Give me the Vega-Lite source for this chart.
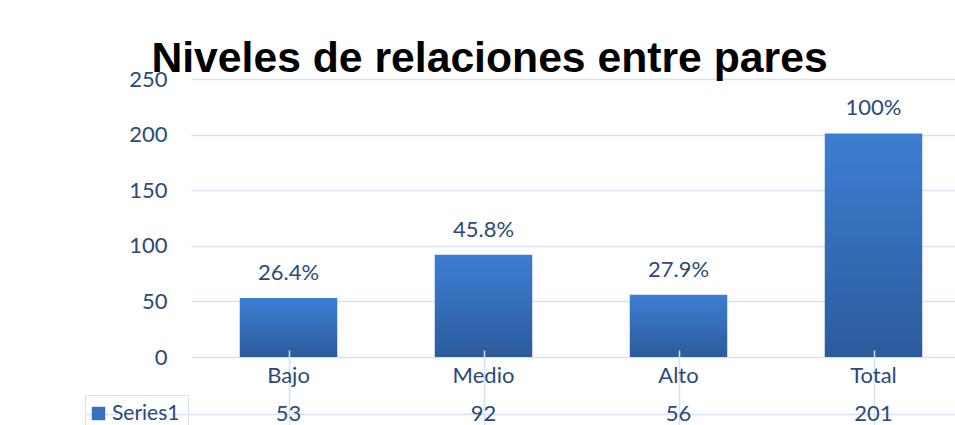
{
  "$schema": "https://vega.github.io/schema/vega-lite/v6.json",
  "padding": {"left": 84, "top": 38, "right": 0, "bottom": 0},
  "background": "white",
  "bounds": "flush",
  "spacing": 0,
  "title": {
    "text": "Niveles de relaciones entre pares",
    "font": "Liberation Sans",
    "fontSize": 42.7,
    "fontWeight": "bold",
    "color": "#000000",
    "anchor": "middle",
    "frame": "group",
    "baseline": "alphabetic",
    "offset": -47,
    "dx": -84
  },
  "data": {
    "values": [
      {"cat": "Bajo", "value": 53, "pct": "26.4%", "series": "Series1"},
      {"cat": "Medio", "value": 92, "pct": "45.8%", "series": "Series1"},
      {"cat": "Alto", "value": 56, "pct": "27.9%", "series": "Series1"},
      {"cat": "Total", "value": 201, "pct": "100%", "series": "Series1"}
    ]
  },
  "vconcat": [
    {
      "width": 765,
      "height": 278,
      "encoding": {
        "x": {
          "field": "cat",
          "type": "nominal",
          "sort": null,
          "scale": {"domain": ["Bajo", "Medio", "Alto", "Total"], "range": [0, 780], "paddingInner": 0, "paddingOuter": 0},
          "axis": null
        },
        "y": {
          "field": "value",
          "type": "quantitative",
          "scale": {"domain": [0, 250], "nice": false},
          "axis": {
            "values": [0, 50, 100, 150, 200, 250],
            "title": null,
            "domain": false,
            "ticks": false,
            "labelPadding": 24,
            "labelFont": "Lato",
            "labelFontSize": 22,
            "labelColor": "#2B4A7A",
            "gridColor": "#D6E2F3",
            "gridWidth": 1.5
          }
        }
      },
      "layer": [
        {
          "mark": {
            "type": "bar",
            "width": {"band": 0.5},
            "color": {"gradient": "linear", "x1": 0, "y1": 0, "x2": 0, "y2": 1,
              "stops": [{"offset": 0, "color": "#3D7ED3"}, {"offset": 1, "color": "#2C5B9C"}]}
          }
        },
        {
          "mark": {"type": "square", "opacity": 0, "size": 10},
          "encoding": {
            "fill": {
              "field": "series",
              "type": "nominal",
              "scale": {"range": ["#3671BD"]},
              "legend": {
                "orient": "none",
                "legendX": -106,
                "legendY": 316,
                "title": null,
                "symbolType": "square",
                "symbolSize": 180,
                "symbolStrokeWidth": 0,
                "symbolOpacity": 1,
                "symbolOffset": -5,
                "labelFont": "Lato",
                "labelFontSize": 21,
                "labelColor": "#2B4A7A",
                "labelOffset": 3,
                "padding": 8,
                "strokeColor": "#D6E2F3"
              }
            }
          }
        },
        {
          "mark": {"type": "text", "baseline": "alphabetic", "dy": -18, "font": "Lato", "fontSize": 22, "color": "#2B4A7A"},
          "encoding": {"text": {"field": "pct"}}
        }
      ]
    },
    {
      "width": 765,
      "height": 69,
      "encoding": {
        "x": {
          "field": "cat",
          "type": "nominal",
          "sort": null,
          "scale": {"domain": ["Bajo", "Medio", "Alto", "Total"], "range": [0, 780], "paddingInner": 0, "paddingOuter": 0},
          "axis": {
            "bandPosition": 0,
            "grid": true,
            "gridColor": "#D6E2F3",
            "gridWidth": 1.5,
            "labels": false,
            "ticks": false,
            "domain": false,
            "title": null
          }
        }
      },
      "layer": [
        {
          "mark": {"type": "text", "baseline": "middle", "font": "Lato", "fontSize": 22, "color": "#2B4A7A"},
          "encoding": {
            "y": {
              "datum": "Categoría",
              "type": "nominal",
              "scale": {"domain": ["Categoría", "Series1"], "range": [0, 76], "paddingInner": 0, "paddingOuter": 0},
              "axis": {
                "values": ["Series1"],
                "bandPosition": 0,
                "grid": true,
                "gridColor": "#D6E2F3",
                "gridWidth": 1.5,
                "labels": false,
                "ticks": true,
                "tickSize": 106,
                "tickColor": "#D6E2F3",
                "tickWidth": 1.5,
                "domain": false,
                "title": null
              }
            },
            "text": {"field": "cat"}
          }
        },
        {
          "mark": {"type": "text", "baseline": "middle", "font": "Lato", "fontSize": 22, "color": "#2B4A7A"},
          "encoding": {
            "y": {"field": "series", "type": "nominal"},
            "text": {"field": "value"}
          }
        }
      ]
    }
  ],
  "config": {
    "view": {"stroke": null},
    "font": "Lato"
  }
}
